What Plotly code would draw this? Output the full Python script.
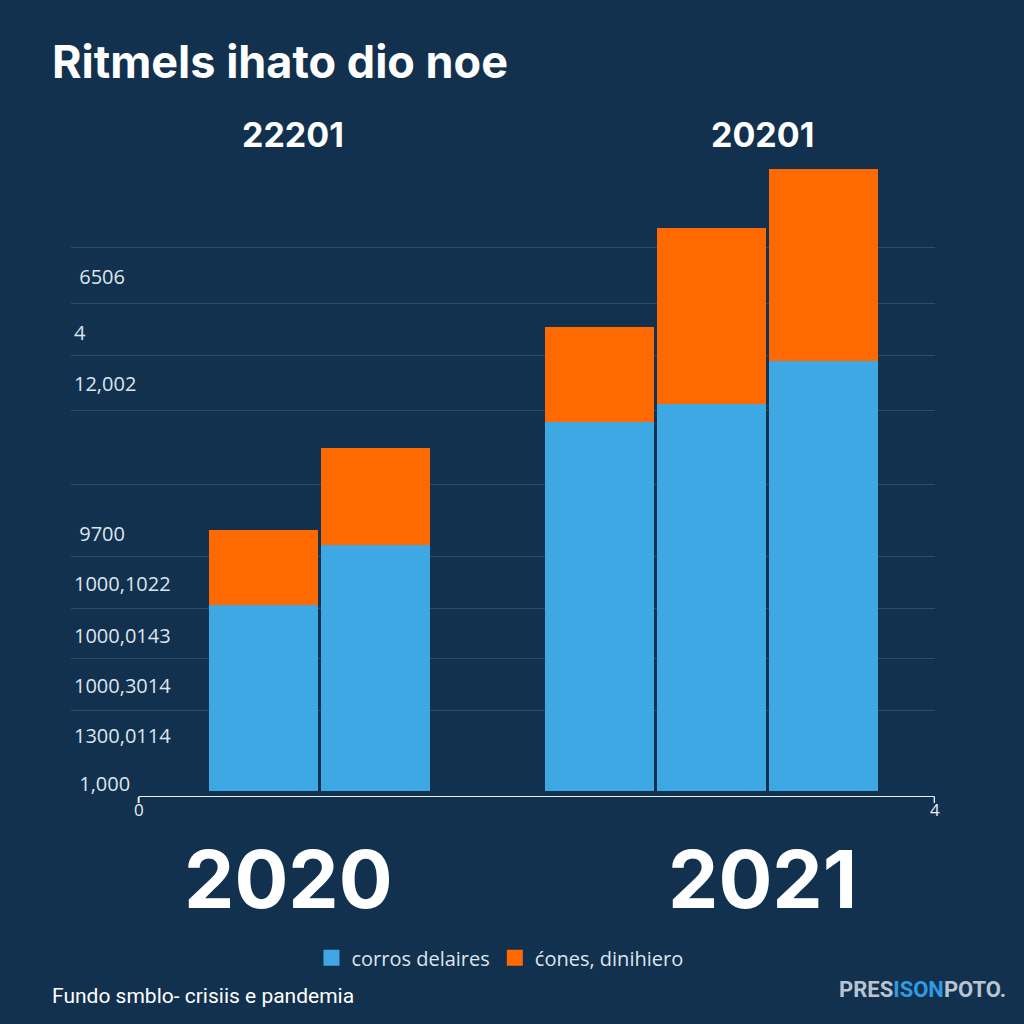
import plotly.graph_objects as go

# ---- data ----
bar_positions = [0, 1, 3, 4, 5]
blue_values = [186, 246, 369, 387, 430]
orange_values = [75, 97, 95, 176, 192]
series_names = ["corros delaires", "ćones, dinihiero"]

ytick_vals = [514, 458, 407, 257, 207, 155, 105, 55, 7]
ytick_text = ["\u00a06506", "4", "12,002", "\u00a09700", "1000,1022", "1000,0143",
              "1000,3014", "1300,0114", "\u00a01,000"]
grid_vals = [544, 488, 436, 381, 307, 235, 183, 133, 81]

xtick_vals = [-1.116, 5.991]
xtick_text = ["0", "4"]

group_top_labels = ["22201", "20201"]
group_year_labels = ["2020", "2021"]

title_text = "Ritmels ihato dio noe"
footer_text = "Fundo smblo- crisiis e pandemia"

BG = "#12314f"
BLUE = "#3ea8e5"
ORANGE = "#ff6a00"
TXT = "#dde5ee"
AX = "#e8eef4"

fig = go.Figure()
fig.add_trace(go.Bar(x=bar_positions, y=blue_values, name=series_names[0],
                     marker=dict(color=BLUE, line=dict(width=0)), width=0.975,
                     showlegend=False))
fig.add_trace(go.Bar(x=bar_positions, y=orange_values, name=series_names[1],
                     marker=dict(color=ORANGE, line=dict(width=0)), width=0.975,
                     showlegend=False))
# legend entries
for nm, col in zip(series_names, [BLUE, ORANGE]):
    fig.add_trace(go.Scatter(x=[None], y=[None], mode="markers", name=nm,
                             marker=dict(symbol="square", size=20, color=col)))

fig.update_layout(
    width=1024, height=1024,
    barmode="stack",
    paper_bgcolor=BG, plot_bgcolor=BG,
    margin=dict(l=71, r=89, t=151, b=227),
    font=dict(family="Open Sans", color=TXT),
    xaxis=dict(range=[-1.72, 5.994], showgrid=False, zeroline=False, showline=False,
               showticklabels=False, ticks=""),
    yaxis=dict(range=[-6, 640], showgrid=False, zeroline=False, showline=False,
               tickvals=ytick_vals, ticktext=ytick_text, ticklabelposition="inside",
               ticks="", tickfont=dict(size=20, color=TXT, family="Open Sans"),
               minor=dict(tickvals=grid_vals, showgrid=True,
                          gridcolor="rgba(255,255,255,0.13)", gridwidth=1, ticks="")),
    legend=dict(orientation="h", x=0.4965, xanchor="center", y=-0.249, yanchor="middle",
                font=dict(size=20, color=TXT, family="Open Sans"), traceorder="normal",
                bgcolor="rgba(0,0,0,0)", itemwidth=30, tracegroupgap=0),
    showlegend=True,
)

# axis baseline and end stubs
fig.add_shape(type="line", xref="x", yref="y", x0=xtick_vals[0], x1=xtick_vals[1],
              y0=-6, y1=-6, line=dict(color=AX, width=2))
for xv, lbl in zip(xtick_vals, xtick_text):
    fig.add_shape(type="line", xref="x", yref="paper", x0=xv, x1=xv,
                  y0=0, y1=-6 / 646, line=dict(color=AX, width=2))
    fig.add_annotation(text=lbl, xref="x", yref="paper", x=xv, y=-12 / 646,
                       xanchor="center", yanchor="middle", showarrow=False,
                       font=dict(size=17, color=AX, family="Open Sans"))

# title
fig.add_annotation(text=f"<b>{title_text}</b>", xref="paper", yref="paper",
                   x=(50 - 71) / 864, y=(797 - 62) / 646, xanchor="left", yanchor="middle",
                   showarrow=False, font=dict(size=45, color="white", family="Inter"))

# group labels
for lbl, px in zip(group_top_labels, [293, 762]):
    fig.add_annotation(text=f"<b>{lbl}</b>", xref="paper", yref="paper",
                       x=(px - 71) / 864, y=(797 - 135) / 646, xanchor="center",
                       yanchor="middle", showarrow=False,
                       font=dict(size=34, color="white", family="Inter"))
for lbl, px in zip(group_year_labels, [288, 762]):
    fig.add_annotation(text=f"<b>{lbl}</b>", xref="paper", yref="paper",
                       x=(px - 71) / 864, y=(797 - 878) / 646, xanchor="center",
                       yanchor="middle", showarrow=False,
                       font=dict(size=80, color="white", family="Inter"))

# footer
fig.add_annotation(text=footer_text, xref="paper", yref="paper",
                   x=(50 - 71) / 864, y=(797 - 996) / 646, xanchor="left", yanchor="middle",
                   showarrow=False, font=dict(size=21, color="white", family="Roboto"))
fig.add_annotation(text="<b>PRES<span style='color:#2f9be0'>ISON</span>POTO.</b>",
                   xref="paper", yref="paper",
                   x=(1008 - 71) / 864, y=(797 - 990) / 646, xanchor="right",
                   yanchor="middle", showarrow=False,
                   font=dict(size=22, color="#b9c4d0", family="Roboto"))

fig.write_html("out.html")
